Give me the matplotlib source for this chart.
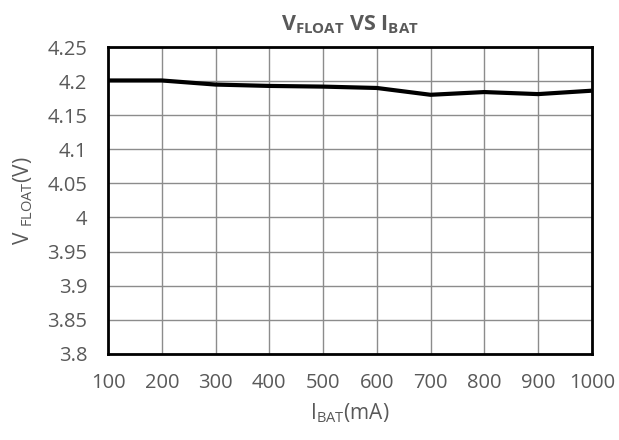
import matplotlib.pyplot as plt

# battery current (mA) and float voltage (V)
i_bat = [100, 200, 300, 400, 500, 600, 700, 800, 900, 1000]
v_float = [4.201, 4.201, 4.195, 4.193, 4.192, 4.190, 4.180, 4.184, 4.181, 4.186]

y_ticks = [3.8, 3.85, 3.9, 3.95, 4, 4.05, 4.1, 4.15, 4.2, 4.25]
y_labels = ['3.8', '3.85', '3.9', '3.95', '4', '4.05', '4.1', '4.15', '4.2', '4.25']

plt.rcParams['font.family'] = ['Open Sans', 'DejaVu Sans']
plt.rcParams['mathtext.fontset'] = 'custom'
plt.rcParams['mathtext.rm'] = 'Open Sans'
plt.rcParams['mathtext.bf'] = 'Open Sans:bold'

fig = plt.figure(figsize=(6.19, 4.4), dpi=100)
ax = fig.add_axes([0.1745, 0.196, 0.7815, 0.697])

ax.plot(i_bat, v_float, color='black', linewidth=3, solid_capstyle='butt')

ax.set_xlim(100, 1000)
ax.set_ylim(3.8, 4.25)
ax.set_xticks(i_bat)
ax.set_yticks(y_ticks)
ax.set_yticklabels(y_labels)
ax.grid(True, color='#8c8c8c', linewidth=1)
ax.set_axisbelow(True)
for s in ax.spines.values():
    s.set_linewidth(2)
    s.set_color('black')
ax.tick_params(length=0, labelsize=14.5, colors='#595959')
ax.tick_params(axis='x', pad=14)
ax.tick_params(axis='y', pad=15)

ax.set_title(r'$\mathbf{V_{FLOAT}}$ VS $\mathbf{I_{BAT}}$', fontsize=15.5,
             fontweight='bold', color='#595959', pad=12)
ax.set_xlabel(r'$\mathregular{I_{BAT}}$(mA)', fontsize=15, color='#595959', labelpad=6)
ax.set_ylabel(r'V $\mathregular{_{FLOAT}}$(V)', fontsize=15, color='#595959', labelpad=9)

fig.savefig('out.png')
